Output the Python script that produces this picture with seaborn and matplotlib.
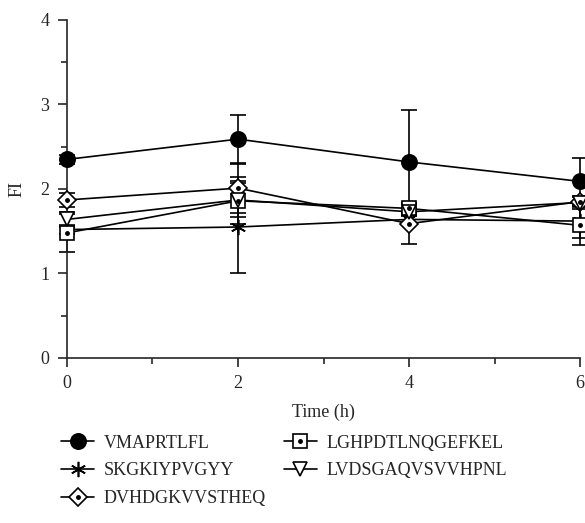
import numpy as np
import pandas as pd
import matplotlib
matplotlib.use("Agg")
import matplotlib.pyplot as plt
from matplotlib.lines import Line2D
from matplotlib.ticker import MultipleLocator
import seaborn as sns

time = [0, 2, 4, 6]
peptides = ["VMAPRTLFL", "SKGKIYPVGYY", "DVHDGKVVSTHEQ", "LGHPDTLNQGEFKEL", "LVDSGAQVSVVHPNL"]
vmaprtlfl = [2.35, 2.59, 2.32, 2.09]
vmaprtlfl_err = [0.05, 0.29, 0.61, 0.28]
skgkiypvgyy = [1.52, 1.55, 1.64, 1.62]
skgkiypvgyy_err = [0.05, 0.54, 0.05, 0.20]
dvhdgkvvstheq = [1.87, 2.01, 1.59, 1.85]
dvhdgkvvstheq_err = [0.08, 0.30, 0.24, 0.06]
lghpdtlnqgefkel = [1.48, 1.86, 1.77, 1.57]
lghpdtlnqgefkel_err = [0.22, 0.28, 0.05, 0.23]
lvdsgaqvsvvhpnl = [1.64, 1.87, 1.73, 1.84]
lvdsgaqvsvvhpnl_err = [0.09, 0.20, 0.05, 0.08]

values = [vmaprtlfl, skgkiypvgyy, dvhdgkvvstheq, lghpdtlnqgefkel, lvdsgaqvsvvhpnl]
errors = [vmaprtlfl_err, skgkiypvgyy_err, dvhdgkvvstheq_err, lghpdtlnqgefkel_err, lvdsgaqvsvvhpnl_err]

df = pd.DataFrame({
    "Time (h)": np.tile(time, len(peptides)),
    "FI": np.concatenate(values),
    "err": np.concatenate(errors),
    "peptide": np.repeat(peptides, len(time)),
})

sns.set_style("ticks")
plt.rcParams["font.family"] = ["Liberation Serif", "DejaVu Serif"]
plt.rcParams["font.size"] = 13

# marker, fill, size, center dot
styles = {
    "VMAPRTLFL": ("o", "black", 11, False),
    "SKGKIYPVGYY": ((6, 2, 0), "black", 11, False),
    "DVHDGKVVSTHEQ": ("D", "white", 9, True),
    "LGHPDTLNQGEFKEL": ("s", "white", 10, True),
    "LVDSGAQVSVVHPNL": ("v", "white", 10, False),
}

fig = plt.figure(figsize=(5.85, 5.23), dpi=100)
ax = fig.add_axes([0.1145, 0.3155, 0.877, 0.6463])

# error bars first, then lines/markers on top
for p in peptides:
    d = df[df["peptide"] == p]
    ax.errorbar(d["Time (h)"], d["FI"], yerr=d["err"], fmt="none", ecolor="black",
                elinewidth=1.2, capsize=5.5, capthick=1.2, clip_on=False, zorder=2)

sns.lineplot(data=df, x="Time (h)", y="FI", hue="peptide", style="peptide",
             palette=["black"] * len(peptides), markers=False, dashes=False,
             linewidth=1.2, legend=False, ax=ax, zorder=3)

handles = []
for p in peptides:
    d = df[df["peptide"] == p]
    m, fc, ms, dot = styles[p]
    ax.plot(d["Time (h)"], d["FI"], linestyle="none", marker=m, markersize=ms,
            markerfacecolor=fc, markeredgecolor="black", markeredgewidth=1.2,
            clip_on=False, zorder=4)
    h = Line2D([], [], color="black", linewidth=1.2, marker=m, markersize=ms,
               markerfacecolor=fc, markeredgecolor="black", markeredgewidth=1.2)
    if dot:
        ax.plot(d["Time (h)"], d["FI"], linestyle="none", marker="o", markersize=2.5,
                color="black", clip_on=False, zorder=5)
        handles.append((h, Line2D([], [], linestyle="none", marker="o", markersize=2.5, color="black")))
    else:
        handles.append(h)

ax.set_xlim(0, 6)
ax.set_ylim(0, 4)
ax.xaxis.set_major_locator(MultipleLocator(2))
ax.xaxis.set_minor_locator(MultipleLocator(1))
ax.yaxis.set_major_locator(MultipleLocator(1))
ax.yaxis.set_minor_locator(MultipleLocator(0.5))
ax.tick_params(which="major", length=6.5, width=1.2, labelsize=13, direction="out", pad=6)
ax.tick_params(which="minor", length=4, width=1.2, direction="out")
for s in ["left", "bottom"]:
    ax.spines[s].set_linewidth(1.2)
sns.despine(ax=ax)
ax.set_xlabel("Time (h)", fontsize=13, labelpad=8)
ax.set_ylabel("FI", fontsize=13, labelpad=11)

fig.legend(handles, peptides,
           loc="upper left", bbox_to_anchor=(0.077, 0.2), ncol=2, frameon=False,
           fontsize=13, handlelength=1.8, columnspacing=1.0, labelspacing=0.6,
           handletextpad=0.55)

fig.savefig("out.png", dpi=100)
